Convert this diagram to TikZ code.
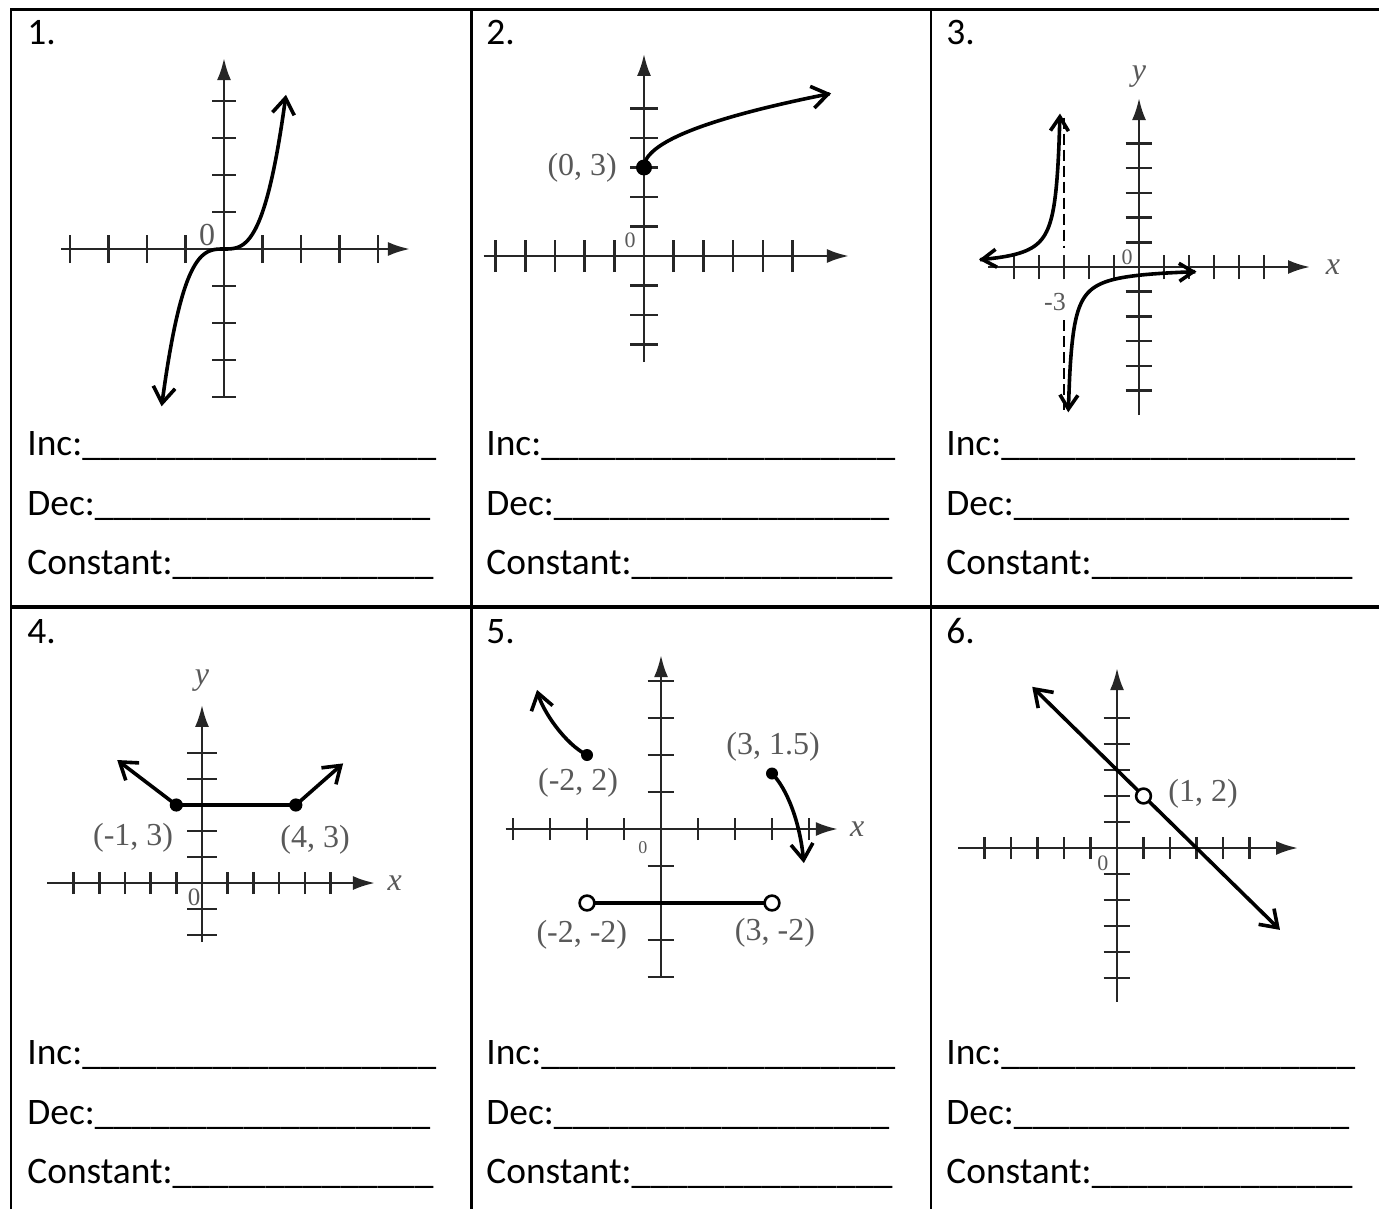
\documentclass[tikz,border=0pt]{standalone}
\usepackage{fontspec}
\setmainfont{Carlito}
\newfontfamily\timesfont{Liberation Serif}
\usetikzlibrary{arrows.meta}
\tikzset{num/.style={anchor=base west,inner sep=0pt,font=\fontsize{18.7}{20}\selectfont},
  lab/.style={inner sep=0pt,text=black!65,font=\timesfont\fontsize{#1}{#1}\selectfont},lab/.default=16,
  axis/.style={line width=1.3pt,draw=black!85,-{Latex[length=11pt,width=7pt]}},
  tick/.style={line width=1.3pt,draw=black!85},
  curve/.style={line width=1.8pt},
  hole/.style={line width=1.3pt,fill=white},
  >={Straight Barb[length=8pt,width=11pt]}}
\newcommand\blanks[1]{\foreach\k in {1,...,#1}{\_}}

\begin{document}
\begin{tikzpicture}[x=0.5pt,y=-0.5pt]
\useasboundingbox (0,0) rectangle (1379,1209);
\draw[line width=1.3pt] (11,1209) -- (11,9.7) -- (1379,9.7)
  (471.3,9.7) -- (471.3,1209) (930.8,9.7) -- (930.8,1209);
\draw[line width=1.7pt] (11,607) -- (1379,607);

\foreach \i/\xx in {1/27,2/486,3/946} \node[num] (n\i) at (\xx,45) {\i.};
\foreach \i/\xx in {4/27,5/486,6/946} \node[num] (n\i) at (\xx,643) {\i.};
\foreach \i/\xx/\yy in {1/27/0,2/486/0,3/946/0,4/27/609,5/486/609,6/946/609}{
  \node[num] (inc\i) at (\xx,455+\yy) {Inc:\blanks{19}};
  \node[num] (dec\i) at (\xx,515+\yy) {Dec:\blanks{18}};
  \node[num] (con\i) at (\xx,574+\yy) {Constant:\blanks{14}};
}

\begin{scope}[shift={(224,249)},x=19.25pt,y=18.5pt]
  \draw[axis] (-4.23,0) -- (4.83,0);
  \draw[axis] (0,-4) -- (0,5.16);
  \foreach \t in {-4,-3,-2,-1,1,2,3,4}{
    \draw[tick] (\t,0) ++(0pt,-7pt) -- ++(0pt,14pt);
    \draw[tick] (0,\t) ++(-6pt,0pt) -- ++(12pt,0pt);}
  \draw[curve,<->] plot[domain=-1.62:1.61,samples=60,smooth] (\x,{\x*\x*\x});
  \node[lab] (z1) at (-0.44,0.38) {0};
\end{scope}

\begin{scope}[shift={(644,256)},x=14.85pt,y=14.75pt]
  \draw[axis] (-5.4,0) -- (6.9,0);
  \draw[axis] (0,-3.6) -- (0,6.85);
  \foreach \t in {-5,-4,-3,-2,-1,1,2,3,4,5}
    \draw[tick] (\t,0) ++(0pt,-8pt) -- ++(0pt,16pt);
  \foreach \t in {-3,-2,-1,1,2,3,4,5}
    \draw[tick] (0,\t) ++(-7pt,0pt) -- ++(14pt,0pt);
  \draw[curve,->] plot[domain=0:6.3,samples=80,smooth] (\x,{3+sqrt(\x)});
  \fill (0,3) circle[radius=4pt];
  \node[lab,anchor=east] (p2) at (-0.9,3) {(0, 3)};
  \node[lab=11] (z2) at (-0.47,0.54) {0};
\end{scope}

\begin{scope}[shift={(1139,267)},x=12.5pt,y=12.35pt,>={Straight Barb[length=7pt,width=9pt]}]
  \draw[axis] (-6.04,0) -- (6.84,0);
  \draw[axis] (0,-6) -- (0,6.84);
  \foreach \t in {-5,-4,-3,-2,-1,1,2,3,4,5}{
    \draw[tick] (\t,0) ++(0pt,-6.2pt) -- ++(0pt,12.4pt);
    \draw[tick] (0,\t) ++(-6.7pt,0pt) -- ++(13.4pt,0pt);}
  \draw[line width=1.3pt,dash pattern=on 5.5pt off 2.5pt] (-3,6.05) -- (-3,0.77) (-3,-2.15) -- (-3,-5.8);
  \draw[curve,<->] plot[domain=-6.4:-3.16,samples=80,smooth] (\x,{-1/(\x+3)});
  \draw[curve,<->] plot[domain=-2.83:2.3,samples=80,smooth] (\x,{-1/(\x+3)});
  \node[lab] (x3) at (7.76,0) {\itshape x};
  \node[lab] (y3) at (0,7.7) {\itshape y};
  \node[lab=13] (m3) at (-3.36,-1.42) {-3};
  \node[lab=11] (z3) at (-0.48,0.4) {0};
\end{scope}

\begin{scope}[shift={(202,883)},x=12.85pt,y=13pt]
  \draw[axis] (-6.03,0) -- (6.73,0);
  \draw[axis] (0,-2.27) -- (0,6.85);
  \foreach \t in {-5,-4,-3,-2,-1,1,2,3,4,5}
    \draw[tick] (\t,0) ++(0pt,-5.5pt) -- ++(0pt,11pt);
  \foreach \t in {-2,-1,1,2,3,4,5}
    \draw[tick] (0,\t) ++(-7.5pt,0pt) -- ++(15pt,0pt);
  \draw[curve,->] (-1,3) -- (-3.3,4.73);
  \draw[curve,->] (3.65,3) -- (5.49,4.6);
  \draw[curve] (-1,3) -- (3.65,3);
  \fill (-1,3) circle[radius=3.3pt] (3.65,3) circle[radius=3.3pt];
  \node[lab] (p4a) at (-2.68,1.73) {(-1, 3)};
  \node[lab] (p4b) at (4.4,1.65) {(4, 3)};
  \node[lab] (x4) at (7.5,0) {\itshape x};
  \node[lab] (y4) at (0,7.8) {\itshape y};
  \node[lab=12.5] (z4) at (-0.31,-0.54) {0};
\end{scope}

\begin{scope}[shift={(661,829)},x=18.5pt,y=18.5pt]
  \draw[axis] (-4.2,0) -- (4.78,0);
  \draw[axis] (0,-4.03) -- (0,4.7);
  \foreach \t in {-4,-3,-2,-1,1,2,3,4}{
    \draw[tick] (\t,0) ++(0pt,-5.5pt) -- ++(0pt,11pt);
    \draw[tick] (0,\t) ++(-6.7pt,0pt) -- ++(13.4pt,0pt);}
  \draw[curve,->] (-2,2) .. controls (-2.6,2.3) and (-3.2,3.2) .. (-3.35,3.76);
  \draw[curve,->] (3,1.5) .. controls (3.4,1.1) and (3.75,0.2) .. (3.86,-0.92);
  \draw[curve] (-2,-2) -- (3,-2);
  \fill (-2,2) circle[radius=3pt] (3,1.5) circle[radius=3pt];
  \draw[hole] (-2,-2) circle[radius=3.7pt] (3,-2) circle[radius=3.7pt];
  \node[lab] (p5a) at (-2.24,1.24) {(-2, 2)};
  \node[lab] (p5b) at (3.03,2.22) {(3, 1.5)};
  \node[lab] (p5c) at (-2.14,-2.86) {(-2, -2)};
  \node[lab] (p5d) at (3.08,-2.81) {(3, -2)};
  \node[lab] (x5) at (5.3,0) {\itshape x};
  \node[lab=9] (z5) at (-0.49,-0.49) {0};
\end{scope}

\begin{scope}[shift={(1117,848)},x=13.25pt,y=13pt]
  \draw[axis] (-6,0) -- (6.83,0);
  \draw[axis] (0,-5.92) -- (0,6.92);
  \foreach \t in {-5,-4,-3,-2,-1,1,2,3,4,5}{
    \draw[tick] (\t,0) ++(0pt,-5.5pt) -- ++(0pt,11pt);
    \draw[tick] (0,\t) ++(-6.7pt,0pt) -- ++(13.4pt,0pt);}
  \draw[curve,<->] (-3.2,6.2) -- (6.15,-3.15);
  \draw[hole] (1,2) circle[radius=3.7pt];
  \node[lab] (p6) at (3.25,2.1) {(1, 2)};
  \node[lab=11] (z6) at (-0.53,-0.58) {0};
\end{scope}
\end{tikzpicture}
\end{document}
